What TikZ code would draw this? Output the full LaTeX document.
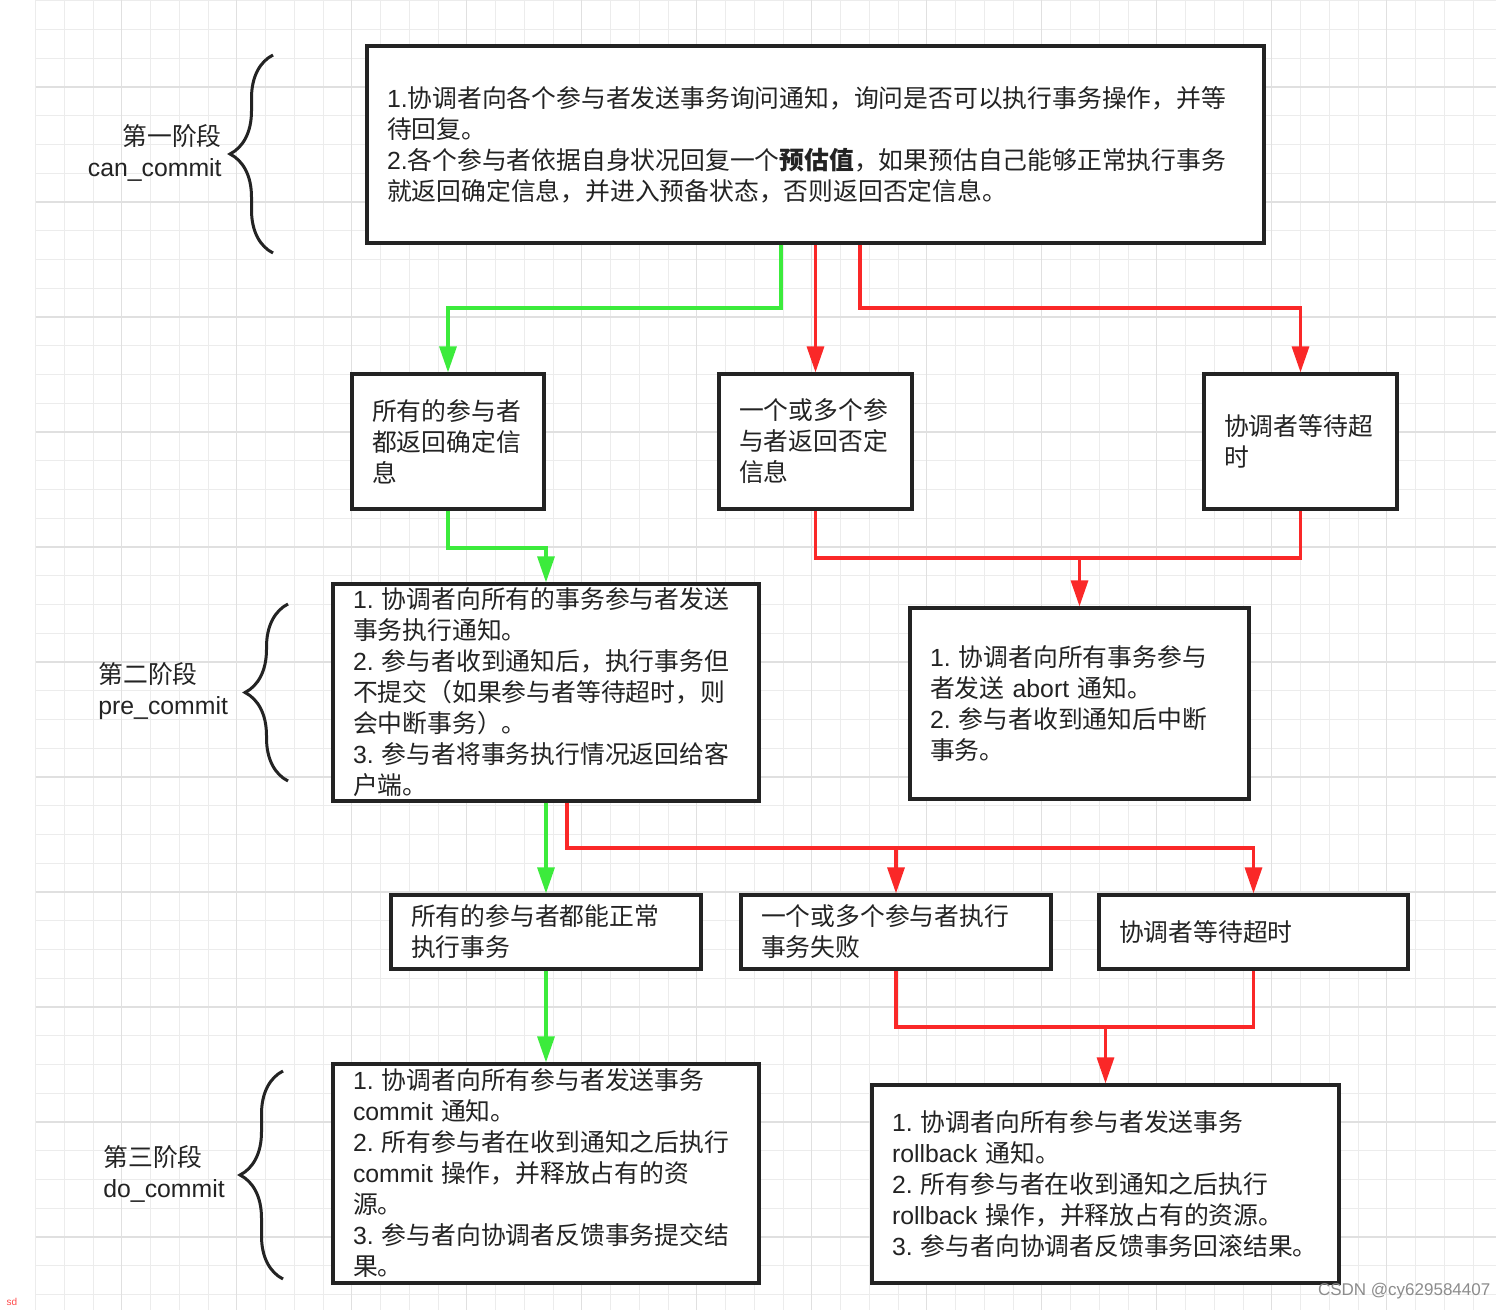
\documentclass[tikz,border=0pt]{standalone}
\usepackage{fontspec}
\setmainfont{Noto Sans CJK SC}
\newfontfamily\latinfont{Liberation Sans}
\newcommand{\ltxt}[1]{{\latinfont #1}}
\usetikzlibrary{arrows.meta,decorations.pathreplacing}
\definecolor{okgreen}{RGB}{60,235,60}
\definecolor{failred}{RGB}{250,40,40}
\definecolor{inkgray}{RGB}{35,35,35}
\definecolor{gridminor}{RGB}{236,236,236}
\definecolor{gridmajor}{RGB}{224,224,224}

\begin{document}
\begin{tikzpicture}[
		x=0.5pt, y=-0.5pt,
		>={Triangle[length=13pt,width=8.5pt]},
		every node/.style={font=\fontsize{12.4}{15.5}\selectfont, text=inkgray},
		stagebox/.style={draw=inkgray, line width=1.6pt, fill=white, align=left, inner xsep=10pt, inner ysep=0pt},
		phaselabel/.style={inner xsep=0pt},
		okline/.style={->, okgreen, line width=1.6pt},
		failline/.style={->, failred, line width=1.6pt},
		phasebrace/.style={decorate, decoration={brace, amplitude=21.5pt}, inkgray, line width=1.5pt}
	]
	
	\fill[white] (0,0) rectangle (1496,1310);
	\useasboundingbox (0,0) rectangle (1496,1310);
	
	% grid
	\foreach \i in {0,...,50}
		\draw[gridminor, line width=0.5pt] ({35.5+28.75*\i},0) -- ({35.5+28.75*\i},1310);
	\foreach \j in {0,...,45}
		\draw[gridminor, line width=0.5pt] (35.5,{0.75+28.75*\j}) -- (1496,{0.75+28.75*\j});
	\foreach \i in {3,7,...,50}
		\draw[gridmajor, line width=0.6pt] ({35.5+28.75*\i},0) -- ({35.5+28.75*\i},1310);
	\foreach \j in {3,7,...,45}
		\draw[gridmajor, line width=0.6pt] (35.5,{0.75+28.75*\j}) -- (1496,{0.75+28.75*\j});
	
	% phase 1
	\node[stagebox, text width=428.5pt, minimum height=98.5pt] (ask) at (815.5,144.5) {\ltxt{1.}协调者向各个参与者发送事务询问通知，询问是否可以执行事务操作，并等\\待回复。\\\ltxt{2.}各个参与者依据自身状况回复一个\textbf{预估值}，如果预估自己能够正常执行事务\\就返回确定信息，并进入预备状态，否则返回否定信息。};
	\node[stagebox, text width=76pt, minimum height=67.5pt] (allyes) at (448,441.5) {所有的参与者\\都返回确定信\\息};
	\node[stagebox, text width=76.5pt, minimum height=67.5pt] (anyno) at (815.5,441.5) {一个或多个参\\与者返回否定\\信息};
	\node[stagebox, text width=76.5pt, minimum height=67.5pt] (waitto) at (1300.5,441.5) {协调者等待超\\时};
	
	% phase 2
	\node[stagebox, text width=193pt, minimum height=108.5pt] (prep) at (546,692.5) {\ltxt{1.~}协调者向所有的事务参与者发送\\事务执行通知。\\\ltxt{2.~}参与者收到通知后，执行事务但\\不提交（如果参与者等待超时，则\\会中断事务）。\\\ltxt{3.~}参与者将事务执行情况返回给客\\户端。};
	\node[stagebox, text width=149.5pt, minimum height=95.5pt] (abort) at (1079.5,703.5) {\ltxt{1.~}协调者向所有事务参与\\者发送\ltxt{~abort~}通知。\\\ltxt{2.~}参与者收到通知后中断\\事务。};
	\node[stagebox, text width=135pt, minimum height=37pt] (runok) at (546,932) {所有的参与者都能正常\\执行事务};
	\node[stagebox, text width=135pt, minimum height=37pt] (runfail) at (896,932) {一个或多个参与者执行\\事务失败};
	\node[stagebox, text width=134.5pt, minimum height=37pt] (timeout2) at (1253.5,932) {协调者等待超时};
	
	% phase 3
	\node[stagebox, text width=193pt, minimum height=109.5pt] (commit) at (546,1173.5) {\ltxt{1.~}协调者向所有参与者发送事务\\\ltxt{commit~}通知。\\\ltxt{2.~}所有参与者在收到通知之后执行\\\ltxt{commit~}操作，并释放占有的资\\源。\\\ltxt{3.~}参与者向协调者反馈事务提交结\\果。};
	\node[stagebox, text width=213.5pt, minimum height=99pt] (rollback) at (1105.5,1184) {\ltxt{1.~}协调者向所有参与者发送事务\\\ltxt{rollback~}通知。\\\ltxt{2.~}所有参与者在收到通知之后执行\\\ltxt{rollback~}操作，并释放占有的资源。\\\ltxt{3.~}参与者向协调者反馈事务回滚结果。};
	
	% phase labels
	\node[phaselabel, anchor=east, align=right] (ph1) at (222,152.5) {第一阶段\\\ltxt{can\_commit}};
	\node[phaselabel, anchor=west, align=left] (ph2) at (98,691.5) {第二阶段\\\ltxt{pre\_commit}};
	\node[phaselabel, anchor=west, align=left] (ph3) at (103,1173.5) {第三阶段\\\ltxt{do\_commit}};
	\draw[phasebrace] (273,253) -- (273,55);
	\draw[phasebrace] (288,781) -- (288,604);
	\draw[phasebrace] (283,1279) -- (283,1071);
	
	% connectors
	\coordinate (y1) at (781,308);
	\coordinate (n1) at (860,308);
	\draw[okline] (y1 |- ask.south) -- (y1) -| (allyes.north);
	\draw[failline] (anyno.north |- ask.south) -- (anyno.north);
	\draw[failline] (n1 |- ask.south) -- (n1) -| (waitto.north);
	
	\coordinate (y2) at (546,548);
	\coordinate (m1) at (1079.5,558);
	\draw[okline] (allyes.south) |- (y2) -- (prep.north);
	\draw[failline, -] (anyno.south) |- (m1 -| waitto.south) -- (waitto.south);
	\draw[failline] (m1) -- (abort.north);
	
	\coordinate (m2) at (567,848);
	\draw[okline] (prep.south) -- (runok.north);
	\draw[failline] (m2 |- prep.south) -- (m2) -| (timeout2.north);
	\draw[failline] (m2 -| runfail.north) -- (runfail.north);
	
	\coordinate (m3) at (1105.5,1027);
	\draw[okline] (runok.south) -- (commit.north);
	\draw[failline, -] (runfail.south) |- (m3 -| timeout2.south) -- (timeout2.south);
	\draw[failline] (m3) -- (rollback.north);
	
	% marks
	\node[anchor=west, font=\latinfont\fontsize{8.5}{10}\selectfont, text=black!45] (mark) at (1311,1291) {CSDN @cy629584407};
	\node[font=\latinfont\fontsize{5}{6}\selectfont, text=red!70] (sd) at (12,1302) {sd};
\end{tikzpicture}
\end{document}
